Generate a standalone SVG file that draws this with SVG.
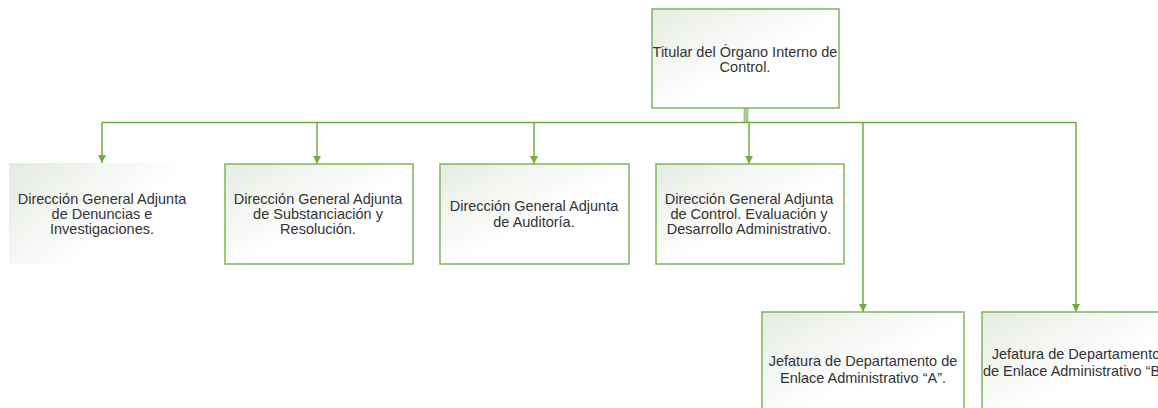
<svg xmlns="http://www.w3.org/2000/svg" width="1158" height="408" viewBox="0 0 1158 408">
<defs>
<linearGradient id="g" x1="0" y1="0" x2="1" y2="1">
<stop offset="0" stop-color="#e6ebe3"/>
<stop offset="0.55" stop-color="#ffffff"/>
<stop offset="1" stop-color="#ffffff"/>
</linearGradient>
<linearGradient id="g1" x1="0" y1="0" x2="1" y2="0.6">
<stop offset="0" stop-color="#e4eae1"/>
<stop offset="0.7" stop-color="#ffffff"/>
</linearGradient>
<marker id="arr" viewBox="0 0 10 10" refX="10" refY="5" markerWidth="8" markerHeight="8" markerUnits="userSpaceOnUse" orient="auto">
<path d="M0,0 L10,5 L0,10 z" fill="#70ad47"/>
</marker>
<style>
.box{fill:url(#g);stroke:#7fb55a;stroke-width:1.5}
.t{font-family:"Liberation Sans",Arial,sans-serif;font-size:14.5px;fill:#333;text-anchor:middle}
.c{fill:none;stroke:#70ad47;stroke-width:1.5}
</style>
</defs>
<rect width="1158" height="408" fill="#fff"/>
<g id="connectors">
<rect x="744" y="108" width="4" height="14" fill="#a9d18e" stroke="#70ad47" stroke-width="0.6"/>
<path class="c" d="M102,122.5 H1076"/>
<path class="c" d="M102,122.5 V163" marker-end="url(#arr)"/>
<path class="c" d="M317,122.5 V164" marker-end="url(#arr)"/>
<path class="c" d="M534,122.5 V164" marker-end="url(#arr)"/>
<path class="c" d="M749,122.5 V164" marker-end="url(#arr)"/>
<path class="c" d="M863,122.5 V312" marker-end="url(#arr)"/>
<path class="c" d="M1076,122.5 V312" marker-end="url(#arr)"/>
</g>
<g id="n0">
<rect class="box" x="652" y="9" width="187" height="99"/>
<text class="t" x="745" y="57">Titular del Órgano Interno de</text>
<text class="t" x="745" y="72">Control.</text>
</g>
<g id="n1">
<rect x="9" y="163" width="192" height="101" fill="url(#g1)"/>
<text class="t" x="102" y="204">Dirección General Adjunta</text>
<text class="t" x="102" y="219">de Denuncias e</text>
<text class="t" x="102" y="234">Investigaciones.</text>
</g>
<g id="n2">
<rect class="box" x="225" y="164" width="188" height="100"/>
<text class="t" x="318" y="204">Dirección General Adjunta</text>
<text class="t" x="318" y="219">de Substanciación y</text>
<text class="t" x="318" y="234">Resolución.</text>
</g>
<g id="n3">
<rect class="box" x="440" y="164" width="189" height="100"/>
<text class="t" x="534" y="211">Dirección General Adjunta</text>
<text class="t" x="534" y="227">de Auditoría.</text>
</g>
<g id="n4">
<rect class="box" x="656" y="164" width="188" height="100"/>
<text class="t" x="749" y="204">Dirección General Adjunta</text>
<text class="t" x="749" y="219">de Control. Evaluación y</text>
<text class="t" x="749" y="234">Desarrollo Administrativo.</text>
</g>
<g id="n5">
<rect class="box" x="762" y="312" width="202" height="110"/>
<text class="t" x="863" y="366">Jefatura de Departamento de</text>
<text class="t" x="863" y="383">Enlace Administrativo “A”.</text>
</g>
<g id="n6">
<rect class="box" x="982" y="312" width="202" height="110"/>
<text class="t" x="1076" y="359">Jefatura de Departamento</text>
<text class="t" x="1076" y="376">de Enlace Administrativo “B”.</text>
</g>
</svg>
